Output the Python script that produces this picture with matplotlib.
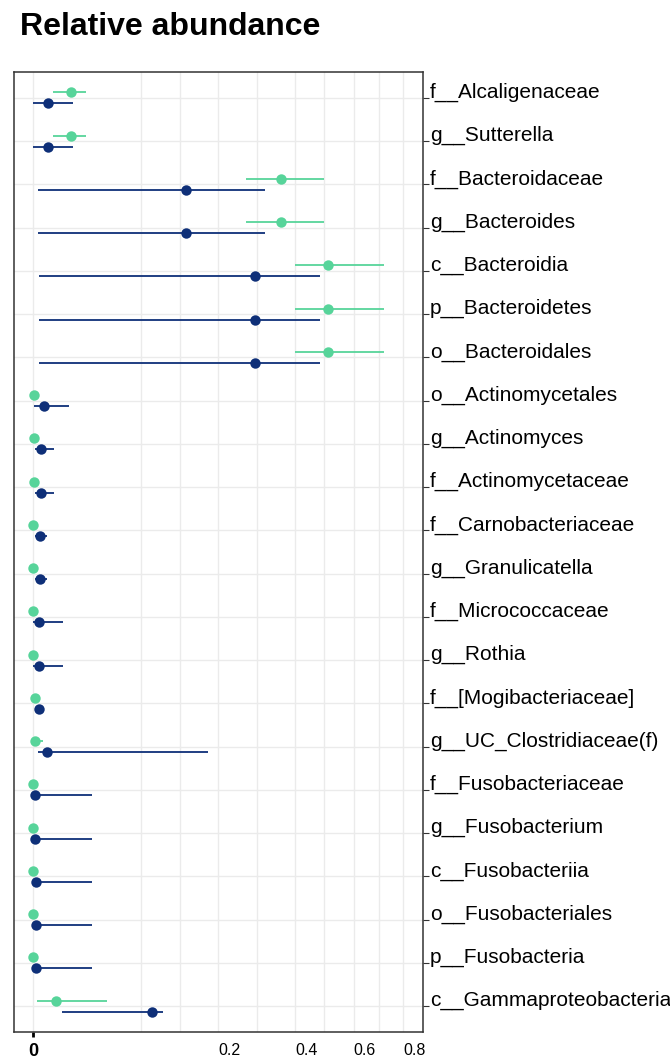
import numpy as np
import matplotlib
matplotlib.use("Agg")
import matplotlib.pyplot as plt

plt.rcParams['font.family'] = ['Liberation Sans', 'DejaVu Sans']

# taxa, top to bottom
taxa = ["f__Alcaligenaceae", "g__Sutterella", "f__Bacteroidaceae", "g__Bacteroides",
        "c__Bacteroidia", "p__Bacteroidetes", "o__Bacteroidales", "o__Actinomycetales",
        "g__Actinomyces", "f__Actinomycetaceae", "f__Carnobacteriaceae", "g__Granulicatella",
        "f__Micrococcaceae", "g__Rothia", "f__[Mogibacteriaceae]", "g__UC_Clostridiaceae(f)",
        "f__Fusobacteriaceae", "g__Fusobacterium", "c__Fusobacteriia", "o__Fusobacteriales",
        "p__Fusobacteria", "c__Gammaproteobacteria"]

# green group: median and interval
green_mid = [0.0083, 0.0083, 0.359, 0.359, 0.507, 0.507, 0.507, 0.00001,
             0.00001, 0.00001, 0.0, 0.0, 0.0, 0.0, 0.00002, 0.00003,
             0.0, 0.0, 0.0, 0.0, 0.0, 0.0030]
green_lo = [0.0024, 0.0024, 0.265, 0.265, 0.400, 0.400, 0.400, 0.0,
            0.0, 0.0, 0.0, 0.0, 0.0, 0.0, 0.0, 0.00001,
            0.0, 0.0, 0.0, 0.0, 0.0, 0.00008]
green_hi = [0.0162, 0.0162, 0.494, 0.494, 0.720, 0.720, 0.720, 0.00003,
            0.00002, 0.00002, 0.00001, 0.00001, 0.00001, 0.00001, 0.00004, 0.00062,
            0.00001, 0.00001, 0.00001, 0.00001, 0.00001, 0.0317]

# navy group: median and interval
blue_mid = [0.00137, 0.00137, 0.1366, 0.1366, 0.2875, 0.2875, 0.2875, 0.00067,
            0.00035, 0.00035, 0.00031, 0.00031, 0.00023, 0.00023, 0.00023, 0.0011,
            0.00002, 0.00003, 0.00006, 0.00006, 0.00006, 0.0822]
blue_lo = [0.0, 0.0, 0.00013, 0.00013, 0.00023, 0.00023, 0.00023, 0.00001,
           0.00002, 0.00002, 0.00002, 0.00002, 0.0, 0.0, 0.0001, 0.00016,
           0.0, 0.0, 0.0, 0.0, 0.0, 0.0050]
blue_hi = [0.0092, 0.0092, 0.314, 0.314, 0.4806, 0.4806, 0.4806, 0.0076,
           0.0025, 0.0025, 0.0011, 0.0011, 0.0054, 0.0054, 0.0004, 0.179,
           0.0203, 0.0203, 0.0203, 0.0203, 0.0203, 0.0991]

x_breaks = [0.2, 0.4, 0.6, 0.8]
x_labels = ["0.2", "0.4", "0.6", "0.8"]

green = "#57D49A"
navy = "#0E2F78"


def fwd(x):
    x = np.asarray(x, dtype=float)
    return np.sign(x) * np.sqrt(np.abs(x))


def inv(y):
    y = np.asarray(y, dtype=float)
    return np.sign(y) * y ** 2


fig = plt.figure(figsize=(6.7, 10.61), dpi=100)
ax = fig.add_axes([14 / 670, 1 - 1032 / 1061, 409 / 670, 960 / 1061])
ax.set_xscale('function', functions=(fwd, inv))

y = np.arange(len(taxa))
dodge = 0.127

ax.hlines(y - dodge, green_lo, green_hi, color=green, lw=1.3, zorder=3)
ax.plot(green_mid, y - dodge, 'o', color=green, ms=7.5, mec='none', zorder=4)
ax.hlines(y + dodge, blue_lo, blue_hi, color=navy, lw=1.3, zorder=3)
ax.plot(blue_mid, y + dodge, 'o', color=navy, ms=7.5, mec='none', zorder=4)

ax.set_ylim(len(taxa) - 0.4, -0.6)
ax.set_xlim(-0.0021, 0.887)

# major ticks (with bold zero), minor grid as midpoints in sqrt space
ax.set_xticks([0.0] + x_breaks, ["0"] + x_labels)
sb = fwd(x_breaks)
bd = sb[1] - sb[0]
ext = np.concatenate([[sb[0] - bd], sb])
minor_s = np.concatenate([[ext[0]], (ext[:-1] + ext[1:]) / 2])
ax.set_xticks(inv(minor_s), minor=True)

ax.tick_params(axis='x', which='minor', length=0)
ax.tick_params(axis='x', which='major', length=3.5, width=2, color='black',
               labelsize=11.5, pad=4.5)
for i, lbl in enumerate(ax.get_xticklabels()):
    if i == 0:
        lbl.set_fontweight('bold')
        lbl.set_fontsize(13)
        lbl.set_ha('center')
    else:
        lbl.set_ha('left')
for t in ax.xaxis.get_major_ticks()[1:]:
    t.tick1line.set_visible(False)

ax.set_yticks(y)
ax.set_yticklabels([])
ax.yaxis.tick_right()
ax.tick_params(axis='y', length=4, width=0.8, color='#333333')
for yi, name in zip(y, taxa):
    ax.text(1.017, yi, name, transform=ax.get_yaxis_transform(), fontsize=15,
            va='baseline', ha='left', clip_on=False)

ax.grid(True, which='both', color='#EBEBEB', lw=1.0)
ax.set_axisbelow(True)
for s in ax.spines.values():
    s.set_color('#333333')
    s.set_linewidth(1.1)

fig.text(20 / 670, 1 - 35 / 1061, "Relative abundance", fontsize=23,
         fontweight='bold', va='baseline', ha='left')

fig.savefig("out.png", dpi=100)
